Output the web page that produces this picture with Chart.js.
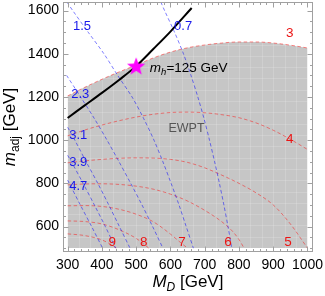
<!DOCTYPE html>
<html><head><meta charset="utf-8">
<script src="https://cdn.jsdelivr.net/npm/chart.js@4.4.0/dist/chart.umd.min.js"></script>
<style>html,body{margin:0;padding:0;background:#fff;}#wrap{width:325px;height:296px;position:relative;}</style>
</head><body><div id="wrap"><canvas id="c" width="325" height="296"></canvas></div>
<script>
// ---- tick labels ----
const xTicks = [300,400,500,600,700,800,900,1000];
const yTicks = [600,800,1000,1200,1400,1600];

// ---- EWPT excluded region boundary (contour "3") ----
const ewptM   = [300,350,400,450,500,550,600,650,700,750,800,850,900,950,1000];
const ewptAdj = [1205,1245,1282,1316,1348,1381,1408,1428,1441,1450,1455,1455,1450,1440,1427];

// ---- red contours ----
const c4M   = [300,350,400,450,500,550,600,650,700,750,800,850,900,950,1000];
const c4Adj = [1020,1047,1070,1090,1107,1120,1128,1130,1127,1118,1104,1080,1046,1004,957];
const c5M   = [300,350,400,450,500,550,600,650,700,750,800,850,900,950,1000];
const c5Adj = [895,904,911,916,918,917,911,897,872,838,800,756,700,612,500];
const c6M   = [300,350,400,450,500,550,600,650,700,750,780,800,815];
const c6Adj = [793,797,798,795,787,773,750,718,675,622,580,540,500];
const c7M   = [300,350,400,450,500,550,600,630,650];
const c7Adj = [696,697,693,680,657,622,565,525,500];
const c8M   = [300,350,400,450,500,537];
const c8Adj = [626,623,612,585,545,500];
const c9M   = [300,350,400,425,442];
const c9Adj = [566,558,538,518,500];

// ---- blue contours ----
const b07M   = [572,583,612,638,660,680,698,714,729,743,756,768,779];
const b07Adj = [1640,1600,1500,1400,1300,1200,1100,1000,900,800,700,600,500];
const b15M   = [298,315,360,406,446,488,522,552,578,602,625,646,667];
const b15Adj = [1640,1600,1500,1400,1300,1200,1100,1000,900,800,700,600,500];
const b23M   = [297,338,378,415,450,484,517,548,578];
const b23Adj = [1300,1200,1100,1000,900,800,700,600,500];
const b31M   = [300,321,354,388,420,451,482];
const b31Adj = [1060,1000,900,800,700,600,500];
const b39M   = [300,311,345,378,410,440];
const b39Adj = [930,900,800,700,600,500];
const b47M   = [300,337,370,402];
const b47Adj = [815,700,600,500];

// ---- m_h = 125 GeV line and benchmark point ----
const mhM   = [300,350,400,450,500,550,600,662];
const mhAdj = [1103,1161,1219,1279,1343,1422,1503,1612];
const starM = [500];
const starAdj = [1343];

// ---- contour labels ----
const redLabels   = ['3','4','5','6','7','8','9'];
const redLabelM   = [948,948,943,768,634,522,430];
const redLabelAdj = [1496,1004,528,525,525,525,525];
const blueLabels   = ['0.7','1.5','2.3','3.1','3.9','4.7'];
const blueLabelM   = [637,342,337,331,331,331];
const blueLabelAdj = [1526,1526,1214,1023,896,788];

const pts = (xs, ys) => xs.map((x,i)=>({x, y: ys[i]}));

const RED = 'rgba(255,0,0,0.45)';
const BLUE = 'rgba(0,0,255,0.5)';
const redDs = (xs, ys) => ({data: pts(xs,ys), showLine:true, borderColor:RED, borderWidth:1, borderDash:[3.5,2.5], pointRadius:0, cubicInterpolationMode:'monotone', fill:false, order:5});
const blueDs = (xs, ys) => ({data: pts(xs,ys), showLine:true, borderColor:BLUE, borderWidth:1, borderDash:[3.5,2.5], pointRadius:0, tension:0.3, fill:false, order:4});

const starIcon = (() => {
  const c = document.createElement('canvas'); c.width = 24; c.height = 24;
  const g = c.getContext('2d'); g.fillStyle = '#ff00ff'; g.beginPath();
  for (let i = 0; i < 10; i++) { const r = i % 2 ? 4.0 : 9.6; const a = -Math.PI/2 + i*Math.PI/5; g.lineTo(12 + r*Math.cos(a), 12.8 + r*Math.sin(a)); }
  g.closePath(); g.fill(); return c;
})();

const datasets = [
  {label:'star', data: pts(starM, starAdj), pointStyle: starIcon, pointRadius: 10, showLine:false, order:0},
  {label:'mh', data: pts(mhM, mhAdj), showLine:true, borderColor:'#000', borderWidth:2, pointRadius:0, cubicInterpolationMode:'monotone', fill:false, order:1},
  blueDs(b07M,b07Adj), blueDs(b15M,b15Adj), blueDs(b23M,b23Adj), blueDs(b31M,b31Adj), blueDs(b39M,b39Adj), blueDs(b47M,b47Adj),
  redDs(ewptM,ewptAdj), redDs(c4M,c4Adj), redDs(c5M,c5Adj), redDs(c6M,c6Adj), redDs(c7M,c7Adj), redDs(c8M,c8Adj), redDs(c9M,c9Adj),
  {label:'ewpt', data: pts(ewptM, ewptAdj), showLine:true, borderWidth:0, borderColor:'rgba(0,0,0,0)', backgroundColor:'rgb(198,198,198)', pointRadius:0, cubicInterpolationMode:'monotone', fill:{value:500}, order:10}
];

const FONT = '"Liberation Sans", Arial, sans-serif';

const seams = {
  id:'seams',
  afterDatasetDraw(chart, args) {
    if (chart.data.datasets[args.index].label !== 'ewpt') return;
    const {ctx, scales:{x, y}} = chart;
    ctx.save();
    ctx.strokeStyle = 'rgba(255,255,255,0.16)'; ctx.lineWidth = 1;
    const x0 = x.getPixelForValue(300), x1 = x.getPixelForValue(1000);
    const y0 = y.getPixelForValue(500), y1 = y.getPixelForValue(1460);
    ctx.beginPath(); ctx.rect(x0, y1, x1-x0, y0-y1); ctx.clip();
    for (let k = 1; k < 21; k++) {
      const px = Math.round(x.getPixelForValue(300 + k*700/21)) + 0.5;
      ctx.beginPath(); ctx.moveTo(px, y1); ctx.lineTo(px, y0); ctx.stroke();
      const py = Math.round(y.getPixelForValue(500 + k*1100/21)) + 0.5;
      ctx.beginPath(); ctx.moveTo(x0, py); ctx.lineTo(x1, py); ctx.stroke();
    }
    ctx.restore();
  }
};

function drawRich(ctx, parts, x, y, align) {
  let w = 0;
  for (const p of parts) { ctx.font = p.f; w += ctx.measureText(p.t).width; }
  let cx = align === 'center' ? x - w/2 : x;
  for (const p of parts) { ctx.font = p.f; ctx.fillText(p.t, cx, y + (p.dy||0)); cx += ctx.measureText(p.t).width; }
}

const deco = {
  id:'deco',
  afterDraw(chart) {
    const {ctx, chartArea:a, scales:{x, y}} = chart;
    ctx.save();
    const L = Math.round(a.left)+0.5, R = Math.round(a.right)-0.5, T = Math.round(a.top)+0.5, B = Math.round(a.bottom)-0.5;
    ctx.strokeStyle = '#a0a0a0'; ctx.lineWidth = 1;
    ctx.strokeRect(L, T, R-L, B-T);
    ctx.beginPath();
    for (let v = 300; v <= 1000; v += 20) {
      const px = Math.round(x.getPixelForValue(v)) + 0.5;
      const len = (v % 100 === 0) ? 5 : 2.5;
      ctx.moveTo(px, B); ctx.lineTo(px, B - len);
      ctx.moveTo(px, T); ctx.lineTo(px, T + len);
    }
    for (let v = 500; v <= 1600; v += 50) {
      const py = Math.round(y.getPixelForValue(v)) + 0.5;
      const len = (v % 200 === 0) ? 5 : 2.5;
      ctx.moveTo(L, py); ctx.lineTo(L + len, py);
      ctx.moveTo(R, py); ctx.lineTo(R - len, py);
    }
    ctx.stroke();

    ctx.textAlign = 'center'; ctx.textBaseline = 'middle';
    ctx.font = '13.5px ' + FONT; ctx.fillStyle = 'rgb(235,20,20)';
    redLabels.forEach((t,i) => ctx.fillText(t, x.getPixelForValue(redLabelM[i]), y.getPixelForValue(redLabelAdj[i])));
    ctx.font = '13px ' + FONT; ctx.fillStyle = 'rgb(25,25,235)';
    blueLabels.forEach((t,i) => ctx.fillText(t, x.getPixelForValue(blueLabelM[i]), y.getPixelForValue(blueLabelAdj[i])));
    ctx.font = '12.5px ' + FONT; ctx.fillStyle = '#555';
    ctx.fillText('EWPT', x.getPixelForValue(647), y.getPixelForValue(1056));

    ctx.textAlign = 'left'; ctx.textBaseline = 'alphabetic'; ctx.fillStyle = '#000';
    drawRich(ctx, [
      {t:'m', f:'italic 13.5px ' + FONT},
      {t:'h', f:'italic 9.5px ' + FONT, dy:3},
      {t:'=125 GeV', f:'13.5px ' + FONT}
    ], x.getPixelForValue(540), y.getPixelForValue(1318), 'left');

    drawRich(ctx, [
      {t:'M', f:'italic 17px ' + FONT},
      {t:'D', f:'italic 12px ' + FONT, dy:4},
      {t:' [GeV]', f:'17px ' + FONT}
    ], (a.left + a.right)/2, 287, 'center');
    ctx.save();
    ctx.translate(15, (a.top + a.bottom)/2);
    ctx.rotate(-Math.PI/2);
    drawRich(ctx, [
      {t:'m', f:'italic 17px ' + FONT},
      {t:'adj', f:'12px ' + FONT, dy:4},
      {t:' [GeV]', f:'17px ' + FONT}
    ], 0, 0, 'center');
    ctx.restore();
    ctx.restore();
  }
};

const zeroPad = s => { s.paddingLeft = 0; s.paddingRight = 0; s.paddingTop = 0; s.paddingBottom = 0; };

new Chart(document.getElementById('c'), {
  type:'scatter',
  data:{datasets},
  options:{
    responsive:false, animation:false, devicePixelRatio:1,
    layout:{autoPadding:false, padding:{top:2, right:11.7, left:0, bottom:0}},
    plugins:{legend:{display:false}, tooltip:{enabled:false}},
    scales:{
      x:{type:'linear', min:285, max:1017,
        afterBuildTicks:s => { s.ticks = xTicks.map(v => ({value:v})); },
        afterFit:s => { s.height = 44; zeroPad(s); },
        grid:{display:false, drawTicks:false}, border:{display:false},
        ticks:{padding:5, color:'#000', font:{family:FONT, size:14}, maxRotation:0, autoSkip:false, callback:v => String(v)}},
      y:{type:'linear', min:482, max:1640,
        afterBuildTicks:s => { s.ticks = yTicks.map(v => ({value:v})); },
        afterFit:s => { s.width = 62.5; zeroPad(s); },
        grid:{display:false, drawTicks:false}, border:{display:false},
        ticks:{padding:3.5, color:'#000', font:{family:FONT, size:14}, autoSkip:false, callback:v => String(v)}}
    }
  },
  plugins:[seams, deco]
});
</script></body></html>
